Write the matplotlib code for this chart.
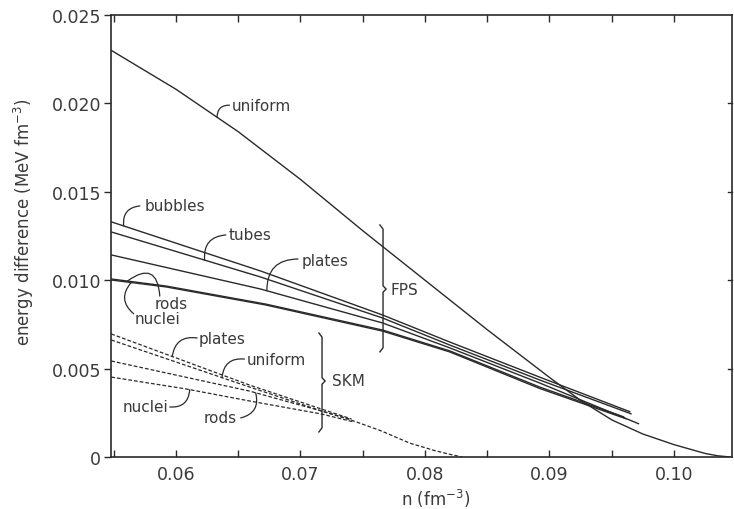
import numpy as np
import matplotlib
matplotlib.use("Agg")
import matplotlib.pyplot as plt
from matplotlib.ticker import MultipleLocator, FixedLocator

# ---------------- data ----------------
# FPS interaction (solid lines)
fps_uniform_n = [0.0548, 0.060, 0.065, 0.070, 0.075, 0.080, 0.085, 0.090, 0.0925, 0.095, 0.0975, 0.100, 0.1025, 0.1035, 0.1045]
fps_uniform_e = [0.0230, 0.0208, 0.0184, 0.0157, 0.0128, 0.0100, 0.0072, 0.0045, 0.0032, 0.0021, 0.0013, 0.0007, 0.0002, 0.00007, 0.0]

fps_bubbles_n = [0.0548, 0.0668, 0.0766, 0.0820, 0.0892, 0.0965]
fps_bubbles_e = [0.01330, 0.01052, 0.00803, 0.00650, 0.00452, 0.00255]
fps_tubes_n = [0.0548, 0.0668, 0.0766, 0.0820, 0.0892, 0.0966]
fps_tubes_e = [0.01273, 0.01018, 0.00786, 0.00633, 0.00436, 0.00243]
fps_plates_n = [0.0548, 0.0668, 0.0766, 0.0820, 0.0892, 0.0972]
fps_plates_e = [0.01143, 0.00950, 0.00758, 0.00617, 0.00419, 0.00187]
fps_rods_n = [0.0548, 0.0592, 0.0672, 0.0766, 0.0820, 0.0892, 0.0960]
fps_rods_e = [0.01007, 0.00967, 0.00865, 0.00718, 0.00600, 0.00396, 0.00226]
fps_nuclei_n = [0.0548, 0.0592, 0.0672, 0.0766, 0.0820, 0.0892, 0.0962]
fps_nuclei_e = [0.01001, 0.00962, 0.00860, 0.00712, 0.00594, 0.00388, 0.00215]

# SKM interaction (dashed lines)
skm_plates_n = [0.0548, 0.0659, 0.0717, 0.0741]
skm_plates_e = [0.00696, 0.00407, 0.00271, 0.00215]
skm_uniform_n = [0.0548, 0.0659, 0.0717, 0.0741, 0.0764, 0.0788, 0.0808, 0.0820, 0.0830]
skm_uniform_e = [0.00662, 0.00396, 0.00260, 0.00208, 0.00150, 0.00078, 0.00036, 0.00015, 0.0]
skm_rods_n = [0.0548, 0.0659, 0.0717, 0.0739]
skm_rods_e = [0.00543, 0.00373, 0.00260, 0.00215]
skm_nuclei_n = [0.0548, 0.0608, 0.0659, 0.0717, 0.0743]
skm_nuclei_e = [0.00452, 0.00385, 0.00317, 0.00243, 0.00198]

x_ticks = [0.06, 0.07, 0.08, 0.09, 0.10]
x_ticklabels = ["0.06", "0.07", "0.08", "0.09", "0.10"]
y_ticks = [0, 0.005, 0.010, 0.015, 0.020, 0.025]
y_ticklabels = ["0", "0.005", "0.010", "0.015", "0.020", "0.025"]

# ---------------- figure ----------------
INK = "#2a2a2a"
TXT = "#3a3a3a"
plt.rcParams["font.family"] = ["DejaVu Sans"]

fig = plt.figure(figsize=(7.34, 5.10), dpi=100)
ax = fig.add_axes([111 / 734, 52 / 510, 621 / 734, 442 / 510])
ax.set_xlim(0.05478, 0.10466)
ax.set_ylim(0, 0.025)

lw = 1.0
for n, e in [(fps_uniform_n, fps_uniform_e), (fps_bubbles_n, fps_bubbles_e),
             (fps_tubes_n, fps_tubes_e), (fps_plates_n, fps_plates_e),
             (fps_rods_n, fps_rods_e), (fps_nuclei_n, fps_nuclei_e)]:
    ax.plot(n, e, color=INK, lw=lw, solid_capstyle="butt")

dash = (0, (3.0, 1.6))
for n, e in [(skm_plates_n, skm_plates_e), (skm_uniform_n, skm_uniform_e),
             (skm_rods_n, skm_rods_e), (skm_nuclei_n, skm_nuclei_e)]:
    ax.plot(n, e, color=INK, lw=0.9, linestyle=dash)

# ---------------- labels with leader curves ----------------
FS = 11


def on(nx, ny, x):
    return (x, float(np.interp(x, nx, ny)))


def label(text, tx, ty, curve_pt, end_pt, rad):
    ax.text(tx, ty, text, fontsize=FS, color=TXT, ha="left", va="center")
    ax.annotate("", xy=curve_pt, xytext=end_pt,
                arrowprops=dict(arrowstyle="-", color=INK, lw=0.9,
                                connectionstyle=f"arc3,rad={rad}",
                                shrinkA=0, shrinkB=0))


label("uniform", 0.0645, 0.0199, on(fps_uniform_n, fps_uniform_e, 0.0633), (0.0643, 0.0199), 0.5)
label("bubbles", 0.0575, 0.0142, on(fps_bubbles_n, fps_bubbles_e, 0.0558), (0.0571, 0.0142), 0.5)
label("tubes", 0.0642, 0.01256, on(fps_tubes_n, fps_tubes_e, 0.0623), (0.0640, 0.01256), 0.5)
label("plates", 0.0701, 0.01114, on(fps_plates_n, fps_plates_e, 0.0673), (0.0698, 0.0112), 0.5)
label("rods", 0.0583, 0.00871, on(fps_rods_n, fps_rods_e, 0.0561), (0.0587, 0.0091), 0.9)
label("nuclei", 0.0567, 0.00781, on(fps_nuclei_n, fps_nuclei_e, 0.0564), (0.0566, 0.0081), -0.5)

label("plates", 0.0618, 0.00673, on(skm_plates_n, skm_plates_e, 0.0597), (0.0617, 0.00673), 0.5)
label("uniform", 0.0657, 0.00549, on(skm_uniform_n, skm_uniform_e, 0.0637), (0.0655, 0.00554), 0.5)
label("nuclei", 0.0557, 0.00283, on(skm_nuclei_n, skm_nuclei_e, 0.0611), (0.0595, 0.00283), 0.5)
label("rods", 0.0622, 0.00221, on(skm_rods_n, skm_rods_e, 0.0664), (0.0652, 0.00221), 0.5)


def brace(x, top, bot, mid, text, tx):
    dx = 0.00025
    dy = 0.00018
    xs = [x - dx, x, x, x + dx, x, x, x - dx]
    ys = [top + dy * 0.3, top - dy, mid + dy, mid, mid - dy, bot + dy, bot - dy * 0.3]
    ax.plot(xs, ys, color=INK, lw=1.0)
    ax.text(tx, mid, text, fontsize=FS, color=TXT, ha="left", va="center")


brace(0.07663, 0.01307, 0.0060, 0.0095, "FPS", 0.07719)
brace(0.07173, 0.00696, 0.00147, 0.0043, "SKM", 0.07253)

# ---------------- axes styling ----------------
for s in ax.spines.values():
    s.set_color(INK)
    s.set_linewidth(1.2)

ax.xaxis.set_major_locator(FixedLocator(x_ticks))
ax.set_xticklabels(x_ticklabels)
ax.xaxis.set_minor_locator(MultipleLocator(0.005))
ax.yaxis.set_major_locator(FixedLocator(y_ticks))
ax.set_yticklabels(y_ticklabels)

ax.tick_params(axis="x", which="both", direction="in", top=True, bottom=True,
               length=5, width=1.0, color=INK, labelsize=12.5, labelcolor=TXT, pad=6)
ax.tick_params(axis="y", which="both", direction="out", left=True, right=False,
               length=5, width=1.0, color=INK, labelsize=12.5, labelcolor=TXT, pad=2)
# inward ticks on right side
for yv in y_ticks[1:-1]:
    ax.plot([0.10466 - 0.00035, 0.10466], [yv, yv], color=INK, lw=1.0, clip_on=False)

ax.set_xlabel("n (fm$^{-3}$)", fontsize=12, color=TXT)
ax.set_ylabel("energy difference (MeV fm$^{-3}$)", fontsize=12, color=TXT)
ax.yaxis.set_label_coords(-0.121, 0.534)
ax.xaxis.set_label_coords(0.522, -0.068)

fig.savefig("out.png", dpi=100)
